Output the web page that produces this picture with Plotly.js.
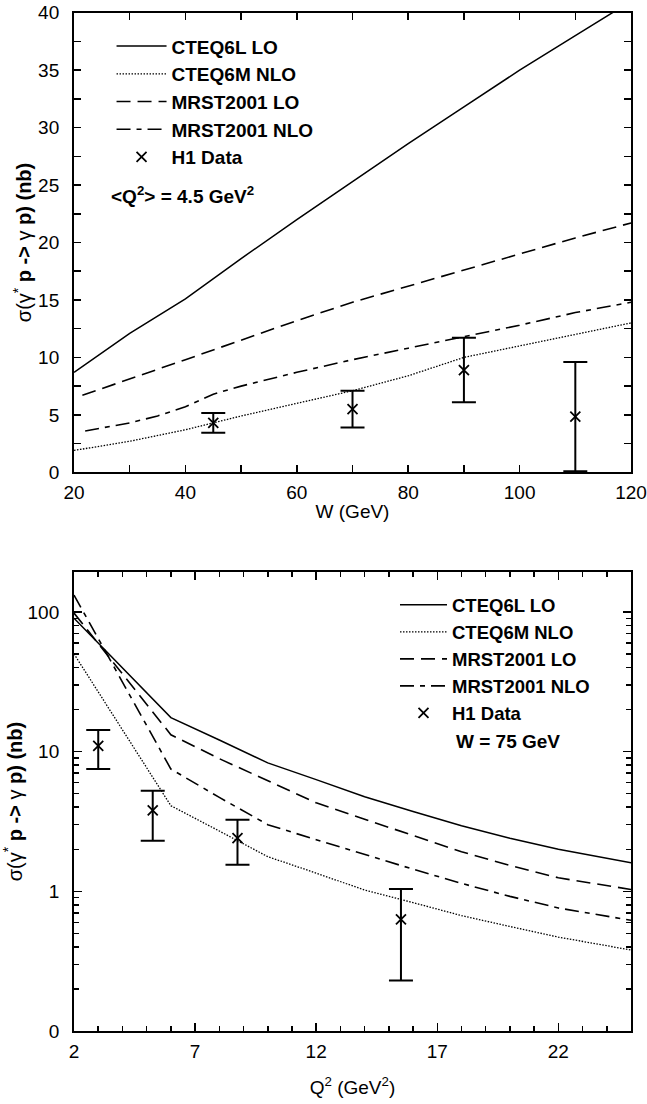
<!DOCTYPE html>
<html>
<head>
<meta charset="utf-8">
<script src="https://cdn.plot.ly/plotly-3.0.1.min.js"></script>
<style>html,body{margin:0;padding:0;background:#fff;}#chart{width:647px;height:1104px;}</style>
</head>
<body>
<div id="chart"></div>
<script>
// ---------- Top panel: sigma vs W at <Q^2> = 4.5 GeV^2 ----------
const cteq6lW   = [20, 30, 40, 50, 60, 70, 80, 90, 100, 110, 120];
const cteq6lSig = [8.7, 12.1, 15.1, 18.6, 22.0, 25.3, 28.6, 31.8, 35.0, 38.0, 41.0];
const cteq6mW   = [20, 30, 40, 45, 50, 60, 70, 80, 90, 100, 110, 120];
const cteq6mSig = [1.9, 2.7, 3.7, 4.3, 4.9, 6.0, 7.1, 8.4, 10.0, 11.0, 12.0, 13.0];
const mrstLoW   = [21.5, 30, 40, 50, 60, 70, 80, 90, 100, 110, 120];
const mrstLoSig = [6.7, 8.1, 9.8, 11.5, 13.2, 14.8, 16.2, 17.6, 19.0, 20.4, 21.7];
const mrstNloW   = [22, 30, 35, 40, 45, 50, 60, 70, 80, 90, 100, 110, 120];
const mrstNloSig = [3.6, 4.3, 4.9, 5.7, 6.8, 7.5, 8.7, 9.8, 10.8, 11.8, 12.8, 13.9, 14.8];
const h1W    = [45, 70, 90, 110];
const h1WSig = [4.3, 5.5, 8.9, 4.85];
const h1WErr = [0.85, 1.6, 2.8, 4.75];

// ---------- Bottom panel: sigma vs Q^2 at W = 75 GeV ----------
const q2         = [2, 6, 8, 10, 12, 14, 16, 18, 20, 22, 25];
const cteq6lQ    = [90, 17.5, 12.1, 8.3, 6.3, 4.75, 3.73, 2.95, 2.4, 2.0, 1.6];
const cteq6mQ    = [50, 4.1, 2.7, 1.77, 1.35, 1.02, 0.83, 0.67, 0.56, 0.47, 0.38];
const mrstLoQ    = [98, 13.2, 8.9, 6.2, 4.3, 3.28, 2.5, 1.92, 1.53, 1.25, 1.03];
const mrstNloQ   = [132, 7.5, 4.7, 3.0, 2.34, 1.83, 1.44, 1.14, 0.92, 0.76, 0.62];
const h1Q2       = [3, 5.25, 8.75, 15.5];
const h1Q2Sig    = [11, 3.8, 2.4, 0.63];
const h1Q2ErrUp  = [3.3, 1.45, 0.85, 0.41];
const h1Q2ErrDn  = [3.5, 1.5, 0.85, 0.40];

const seriesNames = ['CTEQ6L LO', 'CTEQ6M NLO', 'MRST2001 LO', 'MRST2001 NLO', 'H1 Data'];
const yLogTickVals = [0.1, 1, 10, 100];
const yLogTickText = ['0', '1', '10', '100'];

const FONT = 'Liberation Sans, Arial, Helvetica, sans-serif';
const styles = [
  {color: 'black', width: 1.5, dash: 'solid'},
  {color: 'black', width: 1.3, dash: '1.5px,1.5px'},
  {color: 'black', width: 1.6, dash: '14px,7px'},
  {color: 'black', width: 1.6, dash: '14px,6px,5px,6px'}
];

function lineTrace(x, y, i, xa, ya, leg) {
  return {x: x, y: y, type: 'scatter', mode: 'lines', name: seriesNames[i],
          line: styles[i], xaxis: xa, yaxis: ya, legend: leg, hoverinfo: 'skip'};
}
function dataTrace(x, y, up, dn, xa, ya, leg) {
  return {x: x, y: y, type: 'scatter', mode: 'markers', name: seriesNames[4],
          marker: {symbol: 'x-thin', size: 10, color: 'black', line: {color: 'black', width: 1.8}},
          error_y: {type: 'data', array: up, arrayminus: dn, symmetric: false, color: 'black', thickness: 2, width: 12},
          xaxis: xa, yaxis: ya, legend: leg, hoverinfo: 'skip'};
}

const traces = [
  lineTrace(cteq6lW, cteq6lSig, 0, 'x', 'y', 'legend'),
  lineTrace(cteq6mW, cteq6mSig, 1, 'x', 'y', 'legend'),
  lineTrace(mrstLoW, mrstLoSig, 2, 'x', 'y', 'legend'),
  lineTrace(mrstNloW, mrstNloSig, 3, 'x', 'y', 'legend'),
  dataTrace(h1W, h1WSig, h1WErr, h1WErr, 'x', 'y', 'legend'),
  lineTrace(q2, cteq6lQ, 0, 'x2', 'y2', 'legend2'),
  lineTrace(q2, cteq6mQ, 1, 'x2', 'y2', 'legend2'),
  lineTrace(q2, mrstLoQ, 2, 'x2', 'y2', 'legend2'),
  lineTrace(q2, mrstNloQ, 3, 'x2', 'y2', 'legend2'),
  dataTrace(h1Q2, h1Q2Sig, h1Q2ErrUp, h1Q2ErrDn, 'x2', 'y2', 'legend2')
];

const axisCommon = {
  showline: true, linewidth: 2, linecolor: 'black', mirror: 'ticks',
  showgrid: false, zeroline: false, ticks: 'inside', tickwidth: 1.5, tickcolor: 'black',
  tickfont: {family: FONT, size: 19, color: 'black'}, automargin: false
};
const ytitle = 'σ(γ<sup>*</sup> <b>p -&gt; </b>γ<b> p) (nb)</b>';

const layout = {
  width: 647, height: 1104,
  margin: {l: 0, r: 0, t: 0, b: 0},
  paper_bgcolor: 'white', plot_bgcolor: 'white',
  font: {family: FONT, size: 19, color: 'black'},
  xaxis: Object.assign({}, axisCommon, {
    domain: [0.1144, 0.9753], anchor: 'y', range: [20, 120],
    tickmode: 'linear', tick0: 20, dtick: 20, ticklen: 7, ticklabelstandoff: 2,
    minor: {tickmode: 'linear', tick0: 20, dtick: 10, ticks: 'inside', ticklen: 7, tickwidth: 1.5, tickcolor: 'black', showgrid: false},
    title: {text: 'W (GeV)', font: {family: FONT, size: 19}, standoff: 3}
  }),
  yaxis: Object.assign({}, axisCommon, {
    domain: [0.5722, 0.9885], anchor: 'x', range: [0, 40],
    tickmode: 'linear', tick0: 0, dtick: 5, ticklen: 7, ticklabelstandoff: 9,
    minor: {tickmode: 'linear', tick0: 0, dtick: 2.5, ticks: 'inside', ticklen: 7, tickwidth: 1.5, tickcolor: 'black', showgrid: false},
    title: {text: ytitle, font: {family: FONT, size: 20}, standoff: 1}
  }),
  xaxis2: Object.assign({}, axisCommon, {
    domain: [0.1144, 0.9753], anchor: 'y2', range: [2, 25],
    tickmode: 'linear', tick0: 2, dtick: 5, ticklen: 8, ticklabelstandoff: 2,
    minor: {tickmode: 'linear', tick0: 2, dtick: 1, ticks: 'inside', ticklen: 5, tickwidth: 1.5, tickcolor: 'black', showgrid: false},
    title: {text: 'Q<sup>2</sup> (GeV<sup>2</sup>)', font: {family: FONT, size: 19}, standoff: 20}
  }),
  yaxis2: Object.assign({}, axisCommon, {
    domain: [0.0661, 0.4819], anchor: 'x2', type: 'log', range: [-1, 2.2856],
    tickmode: 'array', tickvals: yLogTickVals, ticktext: yLogTickText, ticklen: 8, ticklabelstandoff: 9,
    minor: {dtick: 'D1', ticks: 'inside', ticklen: 5, tickwidth: 1.5, tickcolor: 'black', showgrid: false},
    title: {text: ytitle, font: {family: FONT, size: 20}, standoff: 0}
  }),
  legend: {
    x: 0.1724, y: 0.9753, xanchor: 'left', yanchor: 'top', bgcolor: 'rgba(0,0,0,0)',
    font: {family: FONT, size: 19, weight: 'bold', color: 'black'}, itemwidth: 50, tracegroupgap: 0
  },
  legend2: {
    x: 0.6105, y: 0.469, xanchor: 'left', yanchor: 'top', bgcolor: 'rgba(0,0,0,0)',
    font: {family: FONT, size: 18.5, weight: 'bold', color: 'black'}, itemwidth: 47, tracegroupgap: 0
  },
  annotations: [
    {xref: 'paper', yref: 'paper', x: 0.168, y: 0.8234, xanchor: 'left', yanchor: 'middle', showarrow: false,
     text: '<b>&lt;Q<sup>2</sup>&gt; = 4.5 GeV<sup>2</sup></b>', font: {family: FONT, size: 19, color: 'black'}},
    {xref: 'paper', yref: 'paper', x: 0.702, y: 0.3288, xanchor: 'left', yanchor: 'middle', showarrow: false,
     text: '<b>W = 75 GeV</b>', font: {family: FONT, size: 19, color: 'black'}}
  ]
};

Plotly.newPlot('chart', traces, layout, {staticPlot: true, displayModeBar: false});
</script>
</body>
</html>
